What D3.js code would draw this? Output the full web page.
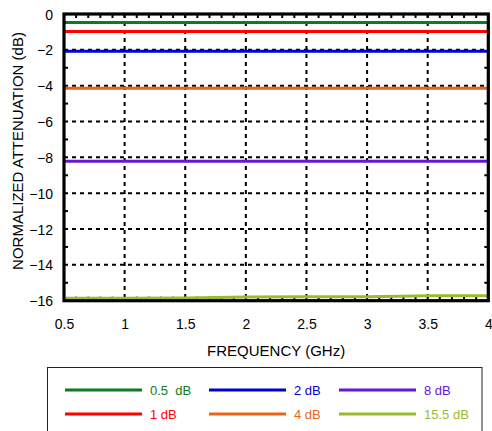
<!DOCTYPE html>
<html><head><meta charset="utf-8">
<script src="https://cdn.jsdelivr.net/npm/d3@7"></script>
<style>html,body{margin:0;padding:0;background:#fff;}svg{display:block;}</style>
</head><body>
<script>
// ---- data ----
const frequencies = [0.5, 1, 1.5, 2, 2.5, 3, 3.5, 4];
const seriesNames = ["0.5  dB", "1 dB", "2 dB", "4 dB", "8 dB", "15.5 dB"];
const att05 = [-0.47, -0.47, -0.47, -0.47, -0.47, -0.47, -0.47, -0.47];
const att1  = [-0.97, -0.97, -0.97, -0.97, -0.97, -0.97, -0.97, -0.97];
const att2  = [-2.08, -2.08, -2.08, -2.08, -2.08, -2.08, -2.08, -2.08];
const att4  = [-4.15, -4.15, -4.15, -4.15, -4.15, -4.15, -4.15, -4.15];
const att8  = [-8.22, -8.22, -8.22, -8.22, -8.22, -8.22, -8.22, -8.22];
const att155 = [-15.87, -15.87, -15.85, -15.80, -15.78, -15.78, -15.73, -15.72];
const xTicks = [0.5, 1, 1.5, 2, 2.5, 3, 3.5, 4];
const yTicks = [0, -2, -4, -6, -8, -10, -12, -14, -16];
const colors = ["#0b7d20", "#ff0000", "#0000d2", "#ea6418", "#6617d6", "#9bbb2e"];

const series = [att05, att1, att2, att4, att8, att155];

const W = 492, H = 431;
const L = 64, R = 488.3, T = 14, B = 300.7;
const svg = d3.select("body").append("svg").attr("width", W).attr("height", H)
  .style("font-family", "'Liberation Sans', Arial, Helvetica, sans-serif");

const x = d3.scaleLinear().domain([0.5, 4]).range([L, R]);
const y = d3.scaleLinear().domain([-16, 0]).range([B, T]);

// grid
const grid = svg.append("g");
grid.selectAll("line.gx").data(xTicks.slice(1, -1)).join("line")
  .attr("x1", d => x(d)).attr("x2", d => x(d)).attr("y1", T).attr("y2", B)
  .attr("stroke", "#000").attr("stroke-width", 2).attr("stroke-dasharray", "4,4");
grid.selectAll("line.gy").data(yTicks.slice(1, -1)).join("line")
  .attr("y1", d => y(d)).attr("y2", d => y(d)).attr("x1", L).attr("x2", R)
  .attr("stroke", "#000").attr("stroke-width", 2).attr("stroke-dasharray", "4,4");

// minor ticks (inside)
const minorX = d3.range(6, 40).map(v => v / 10);
const minorY = d3.range(-15, 0, 2);
const tk = svg.append("g").attr("stroke", "#000").attr("stroke-width", 2);
minorX.forEach(v => {
  tk.append("line").attr("x1", x(v)).attr("x2", x(v)).attr("y1", T).attr("y2", T + 4);
  tk.append("line").attr("x1", x(v)).attr("x2", x(v)).attr("y1", B).attr("y2", B - 4);
});
minorY.forEach(v => {
  tk.append("line").attr("y1", y(v)).attr("y2", y(v)).attr("x1", L).attr("x2", L + 4);
  tk.append("line").attr("y1", y(v)).attr("y2", y(v)).attr("x1", R).attr("x2", R - 4);
});

// series lines
const line = d3.line().x((d, i) => x(frequencies[i])).y(d => y(d));
svg.append("g").selectAll("path").data(series).join("path")
  .attr("d", d => line(d)).attr("fill", "none")
  .attr("stroke", (d, i) => colors[i]).attr("stroke-width", 3);

// frame
svg.append("rect").attr("x", L).attr("y", T).attr("width", R - L).attr("height", B - T)
  .attr("fill", "none").attr("stroke", "#000").attr("stroke-width", 3.2);

// axes labels
const xAxis = d3.axisBottom(x).tickValues(xTicks).tickSize(0).tickPadding(0).tickFormat(d3.format("~g"));
const gx = svg.append("g").attr("transform", `translate(0,${B})`).call(xAxis);
gx.select(".domain").remove();
gx.selectAll("text").attr("y", 28.5).attr("dy", null).attr("font-size", 14)
  .attr("font-family", "'Liberation Sans', Arial, sans-serif").attr("fill", "#000");

const yAxis = d3.axisLeft(y).tickValues(yTicks).tickSize(0).tickPadding(0).tickFormat(d3.format("~g"));
const gy = svg.append("g").attr("transform", `translate(${L},0)`).call(yAxis);
gy.select(".domain").remove();
gy.selectAll("text").attr("x", -11).attr("dy", "0.36em").attr("font-size", 14)
  .attr("font-family", "'Liberation Sans', Arial, sans-serif").attr("fill", "#000");

svg.append("text").attr("x", (L + R) / 2).attr("y", 356).attr("text-anchor", "middle")
  .attr("font-size", 15).text("FREQUENCY (GHz)");
svg.append("text").attr("transform", "translate(23,151) rotate(-90)").attr("text-anchor", "middle")
  .attr("font-size", 15).text("NORMALIZED ATTENUATION (dB)");

// legend
svg.append("rect").attr("x", 47.5).attr("y", 367.5).attr("width", 434.5).attr("height", 80)
  .attr("fill", "none").attr("stroke", "#222").attr("stroke-width", 1);
const colX = [65, 209, 339];
const rowY = [390, 414];
const order = [[0, 0, 0], [1, 0, 1], [2, 1, 0], [3, 1, 1], [4, 2, 0], [5, 2, 1]];
const lg = svg.append("g");
order.forEach(([si, c, r]) => {
  lg.append("line").attr("x1", colX[c]).attr("x2", colX[c] + 77)
    .attr("y1", rowY[r]).attr("y2", rowY[r]).attr("stroke", colors[si]).attr("stroke-width", 3);
  lg.append("text").attr("x", colX[c] + 85).attr("y", rowY[r] + 4.6)
    .attr("font-size", 13).attr("fill", colors[si]).style("white-space", "pre")
    .attr("xml:space", "preserve").text(seriesNames[si]);
});
</script>
</body></html>
